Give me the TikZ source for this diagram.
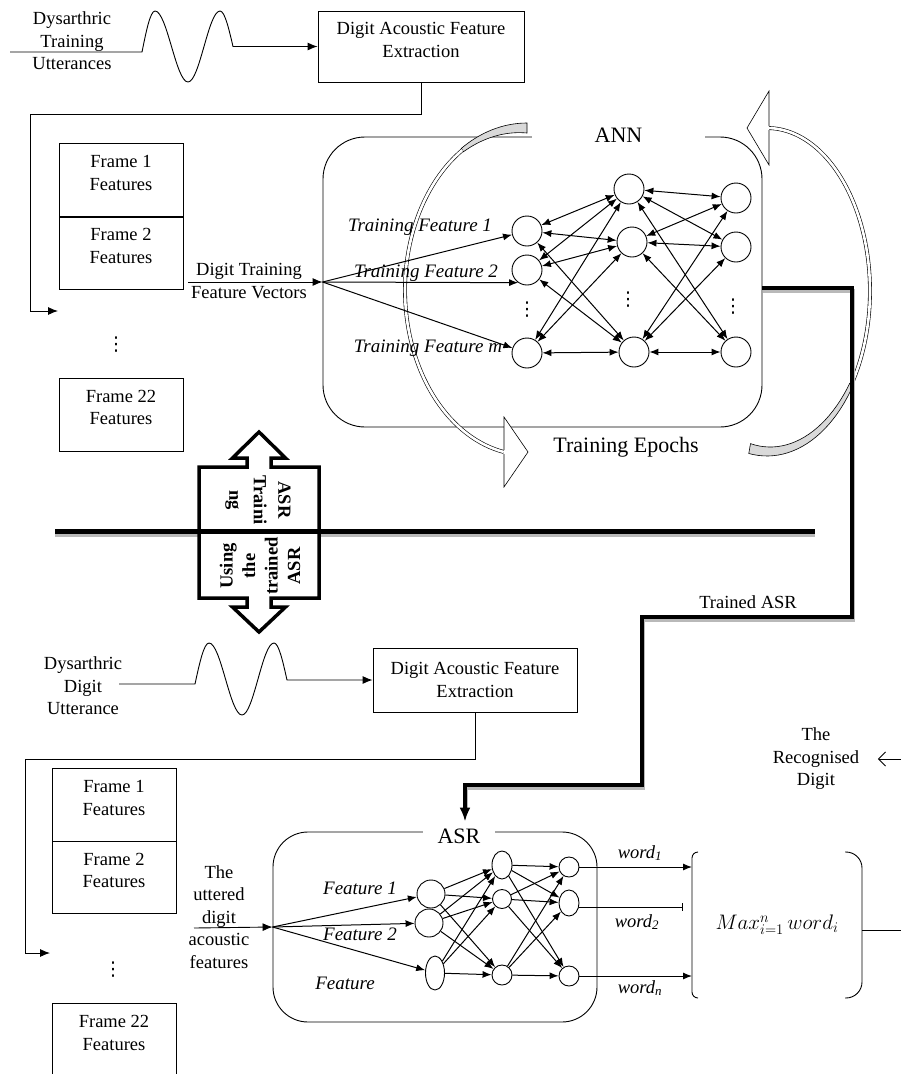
\RequirePackage{fix-cm}
\documentclass[tikz,border=0pt]{standalone}
\usepackage{fontspec}
\usepackage{amsmath}
\setmainfont{Liberation Serif}
\newfontfamily\dotfont{DejaVu Sans}
\usetikzlibrary{arrows.meta, shapes.geometric}

\begin{document}
\begin{tikzpicture}[x=1pt, y=-1pt, line width=0.9pt,
        font=\fontsize{18.5}{22.5}\selectfont,
        featbox/.style={draw, minimum width=206pt, minimum height=71pt, align=center},
        framebox/.style={draw, minimum width=124pt, minimum height=73pt},
        netbox/.style={draw, rounded corners=42pt, minimum width=439pt, minimum height=290pt},
        neuron/.style={circle, draw, fill=white, inner sep=0pt, minimum size=30pt},
        eneuron/.style={ellipse, draw, fill=white, inner sep=0pt},
        bidir/.style={{Latex[length=9pt,width=7pt]}-{Latex[length=9pt,width=7pt]}, line width=1pt},
        fwd/.style={-{Latex[length=9pt,width=7pt]}, line width=1pt},
        conn/.style={-{Latex[length=10pt,width=8pt]}},
        ilbl/.style={font=\itshape\fontsize{19}{22}\selectfont},
        biglbl/.style={font=\fontsize{22}{26}\selectfont},
        vdot/.style={font=\dotfont\fontsize{19}{19}\selectfont, inner sep=0pt},
        band/.style={draw, double=white, double distance=2.6pt, line width=0.6pt},
        bandfill/.style={fill=gray!30, draw, line width=0.6pt},
        rail/.style={line width=4pt},
        railshadow/.style={draw=gray!55, line width=4pt, transform canvas={xshift=1pt, yshift=-3pt}}]
    \useasboundingbox (0,0) rectangle (901,1074);

    % 训练语音输入
    \node[align=center] (utt1) at (72,41) {Dysarthric\\Training\\Utterances};
    \coordinate (w1s) at (10,52);
    \node[featbox, label={[align=center, yshift=6.5pt]center:{Digit Acoustic Feature\\Extraction}}] (fe1) at (421,46.5) {};
    \draw[conn] (w1s) -- (142,52) sin (155,11) cos (171.5,46.5) sin (188,82) cos (204,46.5)
        sin (220,11) cos (233,46.5) -- (fe1.west);

    % 帧特征
    \node[framebox, label={[align=center, yshift=7pt]center:{Frame 1\\Features}}] (fr1) at (121,180) {};
    \node[framebox, minimum height=72pt, label={[align=center, yshift=7pt]center:{Frame 2\\Features}}] (fr2) at (121,253) {};
    \node[vdot] (frd) at (116,345) {⋮};
    \node[framebox, label={[align=center, yshift=7pt]center:{Frame 22\\Features}}] (fr22) at (121,414.5) {};
    \coordinate (fa1) at (58,311);
    \draw[conn] (fe1.south) |- (30,114) |- (fa1);

    % ANN 框
    \node[netbox] (ann) at (542.5,282) {};
    \node[biglbl, fill=white, inner sep=0pt, minimum width=173pt] (annt) at (618.5,135) {ANN};
    \node[biglbl] (epo) at (626,447) {Training Epochs};

    % 训练轮次箭头（左）
    \draw[bandfill] plot[domain=90:122, samples=20] ({527+124*cos(\x)}, {290-167*sin(\x)})
        -- plot[domain=122:90, samples=20] ({527+(120-6*(122-(\x))/32)*cos(\x)}, {290-(163-6*(122-(\x))/32)*sin(\x)}) -- cycle;
    \draw[band] plot[domain=122:259, samples=60] ({527+122*cos(\x)}, {290-165*sin(\x)});
    \fill[white] (504,417) -- (528,452) -- (504,487) -- cycle;
    \draw[line width=0.6pt] (504,450) -- (504,417) -- (528,452) -- (504,487) -- (504,454);

    % 训练轮次箭头（右）
    \draw[bandfill] plot[domain=-100:-35, samples=25] ({767+105*cos(\x)}, {291-165*sin(\x)})
        -- plot[domain=-35:-100, samples=25] ({767+(101-6*(-35-(\x))/65)*cos(\x)}, {291-(161-6*(-35-(\x))/65)*sin(\x)}) -- cycle;
    \draw[band] plot[domain=-35:89, samples=60] ({767+103*cos(\x)}, {291-163*sin(\x)});
    \fill[white] (769,91) -- (747,128) -- (769,165) -- cycle;
    \draw[line width=0.6pt] (769,126) -- (769,91) -- (747,128) -- (769,165) -- (769,130);

    % ANN 神经元
    \node[neuron] (n11) at (527,231) {};
    \node[neuron] (n12) at (527,270) {};
    \node[neuron] (n13) at (527,353) {};
    \node[neuron] (n21) at (629,189) {};
    \node[neuron] (n22) at (632,242) {};
    \node[neuron] (n23) at (634,352) {};
    \node[neuron] (n31) at (736,198) {};
    \node[neuron] (n32) at (736,247) {};
    \node[neuron] (n33) at (736,352) {};
    \node[vdot] (nd1) at (527,310) {⋮};
    \node[vdot] (nd2) at (628,300) {⋮};
    \node[vdot] (nd3) at (733,307) {⋮};
    \foreach \i in {1,2,3}
        \foreach \j in {1,2,3} {
            \draw[bidir] (n1\i) -- (n2\j);
            \draw[bidir] (n2\i) -- (n3\j);
        }

    % 训练特征输入
    \coordinate (tv) at (188,282);
    \node[align=center] (tvl) at (249,281) {Digit Training\\Feature Vectors};
    \draw[conn] (tv) -- (ann.west);
    \draw[fwd] (ann.west) -- (n11);
    \draw[fwd] (ann.west) -- (n12.235);
    \draw[fwd] (ann.west) -- (n13);
    \node[ilbl] (tf1) at (420,227) {Training Feature 1};
    \node[ilbl] (tf2) at (426,273) {Training Feature 2};
    \node[ilbl] (tfm) at (428,348) {Training Feature m};

    % 分隔线和双向箭头
    \draw[draw=gray!55, line width=3pt] (55,535.5) -- (815,535.5);
    \draw[line width=3.5pt, fill=white] (259,432) -- (285.5,458) -- (271,458) -- (271,467) -- (319,467)
        -- (319,598) -- (271,598) -- (271,607) -- (285.5,607) -- (259,632) -- (232.5,607) -- (247,607)
        -- (247,598) -- (199,598) -- (199,467) -- (247,467) -- (247,458) -- (232.5,458) -- cycle;
    \draw[line width=5pt] (55,531.5) -- (815,531.5);
    \node[align=center, rotate=-90, font=\bfseries\fontsize{18.5}{24.5}\selectfont] (trn) at (258,500) {ASR\\Traini\\ng};
    \node[align=center, rotate=90, font=\bfseries\fontsize{18.5}{22.5}\selectfont] (use) at (260,566) {Using\\the\\trained\\ASR};

    % 识别语音输入
    \node[align=center] (utt2) at (83,686) {Dysarthric\\Digit\\Utterance};
    \coordinate (w2s) at (119,684);
    \node[featbox, minimum width=204pt, minimum height=64pt] (fe2) at (475,680) {Digit Acoustic Feature\\Extraction};
    \draw[conn] (w2s) -- (195,684) sin (209,643) cos (225.5,679) sin (242,715) cos (258,679)
        sin (274,643) cos (287,680) -- (fe2.west);

    \node[framebox, label={[align=center, yshift=6.5pt]center:{Frame 1\\Features}}] (fs1) at (114,804.5) {};
    \node[framebox, minimum height=72pt, label={[align=center, yshift=6.5pt]center:{Frame 2\\Features}}] (fs2) at (114,877) {};
    \node[vdot] (fsd) at (113,970) {⋮};
    \node[framebox, label={[align=center, yshift=6.5pt]center:{Frame 22\\Features}}] (fs22) at (114,1039.5) {};
    \coordinate (fa2) at (50,953);
    \draw[conn] (fe2.south) |- (25,759) |- (fa2);

    % ASR 框
    \node[netbox, rounded corners=35pt, minimum width=324pt, minimum height=190pt] (asr) at (435,927) {};
    \node[biglbl, fill=white, inner sep=0pt, minimum width=72pt] (asrt) at (459,836.5) {ASR};

    % 训练好的 ASR
    \coordinate (r1) at (852,288);
    \coordinate (r2) at (642,617);
    \coordinate (r3) at (465,785);
    \draw[railshadow] ([yshift=-6pt]ann.east) -- (r1) |- (r2) |- (r3) -- (465,808);
    \draw[rail, -{Latex[length=14pt,width=11pt]}] ([yshift=-6pt]ann.east) -- (r1) |- (r2) |- (r3)
        -- ([xshift=30pt, yshift=10pt]asr.north);
    \node (tasr) at (748,602) {Trained ASR};

    % ASR 神经元
    \node[neuron, minimum size=28pt] (m11) at (431,894) {};
    \node[neuron, minimum size=28pt] (m12) at (429,923) {};
    \node[eneuron, minimum width=19pt, minimum height=34pt] (m13) at (435,973) {};
    \node[eneuron, minimum width=20pt, minimum height=28pt] (m21) at (502,865) {};
    \node[neuron, minimum size=19pt] (m22) at (502,899) {};
    \node[neuron, minimum size=20pt] (m23) at (502,975) {};
    \node[neuron, minimum size=20pt] (m31) at (569,867) {};
    \node[eneuron, minimum width=20pt, minimum height=26pt] (m32) at (569,903) {};
    \node[neuron, minimum size=20pt] (m33) at (569,976) {};
    \foreach \i in {1,2,3}
        \foreach \j in {1,2,3} {
            \draw[fwd] (m1\i) -- (m2\j);
            \draw[fwd] (m2\i) -- (m3\j);
        }

    % 输入特征
    \coordinate (uv) at (194,928);
    \node[align=center] (uvl) at (219,917) {The\\uttered\\digit\\acoustic\\features};
    \draw[conn] (uv) -- (asr.west);
    \draw[fwd] (asr.west) -- (m11);
    \draw[fwd] (asr.west) -- (m12);
    \draw[fwd] (asr.west) -- (m13);
    \node[ilbl] (f1) at (360,888) {Feature 1};
    \node[ilbl] (f2) at (360,934) {Feature 2};
    \node[ilbl] (fm) at (345,983) {Feature};

    % 输出与最大值
    \draw[rounded corners=6pt] (698,852) -- (692,852) -- (692,998) -- (698,998);
    \draw[rounded corners=16pt] (845,852) -- (862,852) -- (862,998) -- (845,998);
    \coordinate (bl) at (692,925);
    \node[font=\fontsize{21}{25}\selectfont] (mx) at (777,925) {$Max_{i=1}^{n}\,word_i$};
    \draw[fwd] (m31) -- (m31 -| bl);
    \draw[-{Bar[width=8pt]}, line width=1pt] ([yshift=-4pt]m32.east) -- ++(104,0);
    \draw[fwd] (m33) -- (m33 -| bl);
    \node (w1) at (640,853) {\textit{word}$_{\textit{1}}$};
    \node (w2) at (637,922) {\textit{word}$_{\textit{2}}$};
    \node (wn) at (640,988) {\textit{word}$_{\textit{n}}$};
    \coordinate (bro) at (862,930);
    \coordinate (ex) at (901,930);
    \draw (bro) -- (ex);

    % 识别结果
    \node[align=center] (rec) at (816,759) {The\\Recognised\\Digit};
    \coordinate (rx) at (901,759);
    \draw[-{Straight Barb[length=7pt,width=14pt]}] (rx) -- ([xshift=15pt]rec.east);
\end{tikzpicture}
\end{document}
